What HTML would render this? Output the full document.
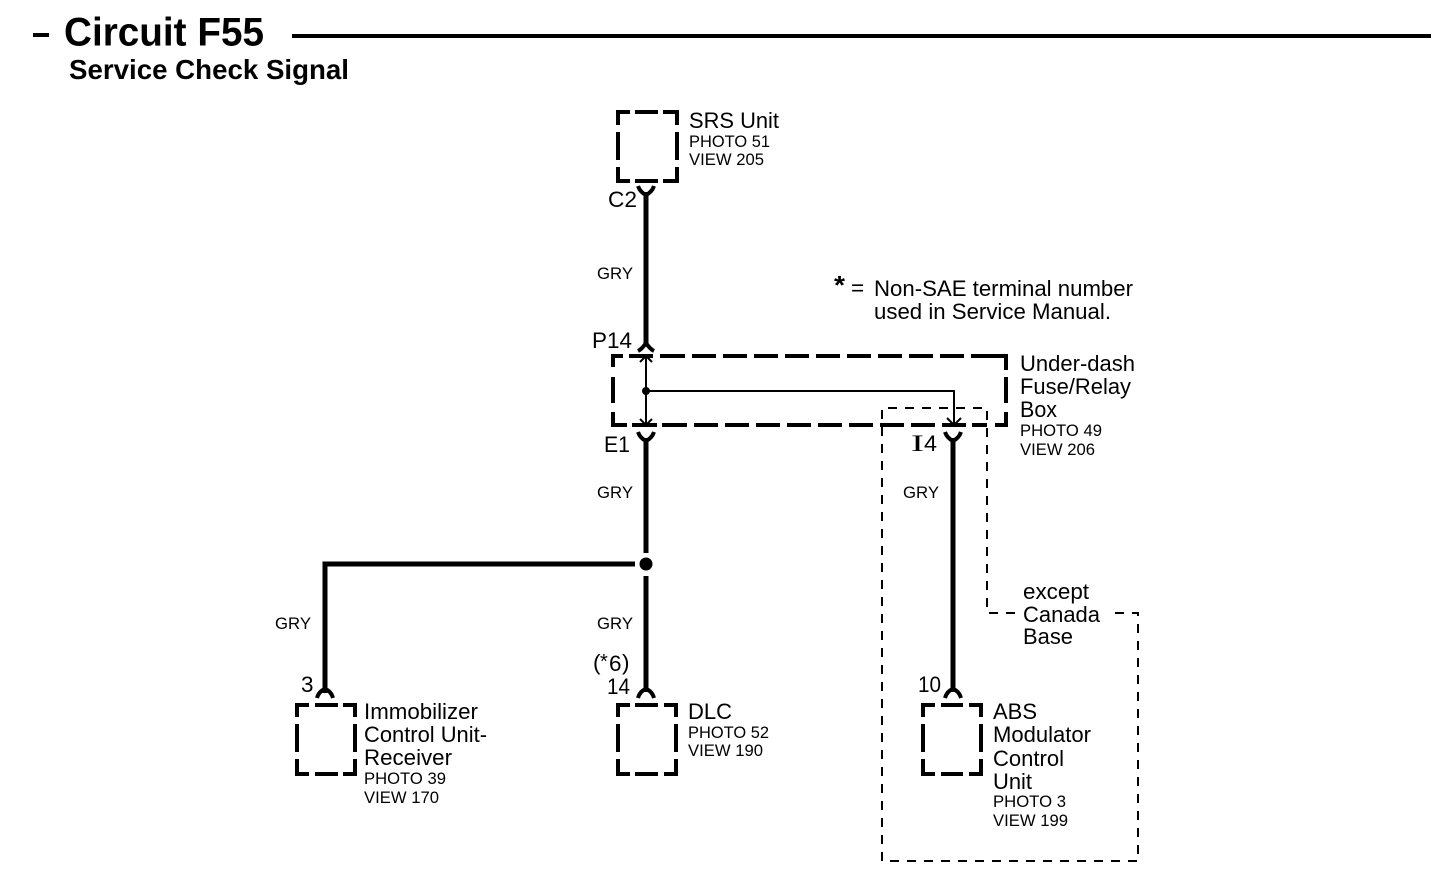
<!DOCTYPE html>
<html>
<head>
<meta charset="utf-8">
<style>
html,body{margin:0;padding:0;background:#fff;width:1456px;height:894px;overflow:hidden}
svg{display:block}
text{font-family:"Liberation Sans",sans-serif;fill:#000}
.l{font-size:22.5px}
.s{font-size:17px}
.g{font-size:17px}
.b{stroke:#000;stroke-width:4;fill:none}
.w{stroke:#000;stroke-width:5;fill:none}
.y{stroke:#000;stroke-width:4;fill:none}
.t{stroke:#000;stroke-width:2;fill:none}
.d{stroke:#000;stroke-width:2;fill:none}
</style>
</head>
<body>
<svg width="1456" height="894" viewBox="0 0 1456 894" xmlns="http://www.w3.org/2000/svg">
<rect width="1456" height="894" fill="#fff"/>

<!-- Title -->
<rect x="33" y="33" width="16" height="4" fill="#000"/>
<text x="64" y="45.5" font-size="40" font-weight="bold" textLength="200" lengthAdjust="spacingAndGlyphs">Circuit F55</text>
<rect x="292" y="34" width="1139" height="4" fill="#000"/>
<text x="69" y="79" font-size="28" font-weight="bold" textLength="280" lengthAdjust="spacingAndGlyphs">Service Check Signal</text>

<!-- SRS box -->
<path class="b" d="M630 112H618V125M635 112H658M663 112H677V125M618 132V160M677 132V160M618 167V181H630M635 181H658M663 181H677V167"/>
<text class="l" x="689" y="128" textLength="90" lengthAdjust="spacingAndGlyphs">SRS Unit</text>
<text class="s" x="689" y="147" textLength="81" lengthAdjust="spacingAndGlyphs">PHOTO 51</text>
<text class="s" x="689" y="165" textLength="75" lengthAdjust="spacingAndGlyphs">VIEW 205</text>

<!-- C2 connector and wire -->
<path class="y" d="M638 186Q640 192 646 195Q652 192 654 186"/>
<path class="w" d="M646 192V343"/>
<text class="l" x="608" y="207" textLength="29" lengthAdjust="spacingAndGlyphs">C2</text>
<text class="g" x="597" y="279" textLength="36" lengthAdjust="spacingAndGlyphs">GRY</text>

<!-- Note -->
<text x="834" y="294" font-size="26" font-weight="bold" textLength="11" lengthAdjust="spacingAndGlyphs">*</text>
<text class="l" x="851" y="295">=</text>
<text class="l" x="874" y="296" textLength="259" lengthAdjust="spacingAndGlyphs">Non-SAE terminal number</text>
<text class="l" x="874" y="319" textLength="237" lengthAdjust="spacingAndGlyphs">used in Service Manual.</text>

<!-- P14 connector -->
<path class="y" d="M638 351Q642 349 646 343Q650 349 654 351"/>
<text class="l" x="592" y="348" textLength="40" lengthAdjust="spacingAndGlyphs">P14</text>

<!-- Under-dash box -->
<path class="b" d="M623 356H613V367M629 356H653M660 356H685M692 356H716M723 356H747M754 356H778M785 356H809M816 356H840M847 356H871M878 356H902M909 356H933M940 356H964M971 356H1006V370M1006 377V403M1006 412V425H995M613 377V403M613 412V425H627M632 425H657M662 425H687M694 425H718M725 425H749M756 425H780M787 425H811M818 425H842M849 425H873M880 425H904M911 425H935M942 425H966M972 425H987"/>
<text class="l" x="1020" y="371" textLength="115" lengthAdjust="spacingAndGlyphs">Under-dash</text>
<text class="l" x="1020" y="394" textLength="111" lengthAdjust="spacingAndGlyphs">Fuse/Relay</text>
<text class="l" x="1020" y="417" textLength="37" lengthAdjust="spacingAndGlyphs">Box</text>
<text class="s" x="1020" y="436" textLength="82" lengthAdjust="spacingAndGlyphs">PHOTO 49</text>
<text class="s" x="1020" y="455" textLength="75" lengthAdjust="spacingAndGlyphs">VIEW 206</text>

<!-- Inner wiring -->
<path class="t" d="M646 356V425"/>
<path class="t" d="M640 362L646 356L652 362"/>
<path class="t" d="M640 419L646 425L652 419"/>
<circle cx="646" cy="391" r="4" fill="#000"/>
<path class="t" d="M646 391H954V424"/>
<path class="t" d="M947 418L954 425L961 418"/>

<!-- Dashed option box -->
<path class="d" stroke-dasharray="9 8" d="M882 861V408H987V613H1016"/>
<path class="d" stroke-dasharray="9 8" d="M1115 613H1138V861H882"/>

<!-- E1 -->
<path class="y" d="M638 432Q640 438 646 441Q652 438 654 432"/>
<path class="w" d="M646 438V553"/>
<text class="l" x="604" y="452" textLength="26" lengthAdjust="spacingAndGlyphs">E1</text>
<text class="g" x="597" y="498" textLength="36" lengthAdjust="spacingAndGlyphs">GRY</text>

<!-- I4 -->
<path class="y" d="M945 432Q947 438 953 441Q959 438 961 432"/>
<path class="w" d="M953 438V692"/>
<text x="911" y="451" font-size="23" style="font-family:'Liberation Serif',serif" textLength="13" lengthAdjust="spacingAndGlyphs">I</text>
<text class="l" x="924" y="451" textLength="13" lengthAdjust="spacingAndGlyphs">4</text>
<text class="g" x="903" y="498" textLength="36" lengthAdjust="spacingAndGlyphs">GRY</text>

<!-- Junction -->
<circle cx="646" cy="564" r="6.5" fill="#000"/>
<path class="w" d="M635 564H325V693"/>
<path class="w" d="M646 576V692"/>
<text class="g" x="275" y="629" textLength="36" lengthAdjust="spacingAndGlyphs">GRY</text>
<text class="g" x="597" y="629" textLength="36" lengthAdjust="spacingAndGlyphs">GRY</text>

<!-- except Canada Base -->
<text class="l" x="1023" y="599" textLength="66" lengthAdjust="spacingAndGlyphs">except</text>
<text class="l" x="1023" y="622" textLength="77" lengthAdjust="spacingAndGlyphs">Canada</text>
<text class="l" x="1023" y="644" textLength="50" lengthAdjust="spacingAndGlyphs">Base</text>

<!-- Immobilizer -->
<path class="y" d="M317 698Q319 691 325 689Q331 691 333 698"/>
<path class="b" d="M309 705H297V717M315 705H338M343 705H355V717M297 724V752M355 724V752M297 759V774H309M315 774H338M343 774H355V759"/>
<text class="l" x="301" y="692">3</text>
<text class="l" x="364" y="719" textLength="114" lengthAdjust="spacingAndGlyphs">Immobilizer</text>
<text class="l" x="364" y="742" textLength="123" lengthAdjust="spacingAndGlyphs">Control Unit-</text>
<text class="l" x="364" y="765" textLength="88" lengthAdjust="spacingAndGlyphs">Receiver</text>
<text class="s" x="364" y="784" textLength="82" lengthAdjust="spacingAndGlyphs">PHOTO 39</text>
<text class="s" x="364" y="803" textLength="75" lengthAdjust="spacingAndGlyphs">VIEW 170</text>

<!-- DLC -->
<path class="y" d="M638 698Q640 691 646 689Q652 691 654 698"/>
<path class="b" d="M630 705H618V717M635 705H658M664 705H676V717M618 724V752M676 724V752M618 759V774H630M635 774H658M664 774H676V759"/>
<text class="l" x="593" y="670">(</text>
<text x="600" y="668" font-size="20">*</text>
<text class="l" x="609" y="671">6</text>
<text class="l" x="622" y="670">)</text>
<text class="l" x="607" y="694" textLength="23" lengthAdjust="spacingAndGlyphs">14</text>
<text class="l" x="688" y="719" textLength="44" lengthAdjust="spacingAndGlyphs">DLC</text>
<text class="s" x="688" y="738" textLength="81" lengthAdjust="spacingAndGlyphs">PHOTO 52</text>
<text class="s" x="688" y="756" textLength="75" lengthAdjust="spacingAndGlyphs">VIEW 190</text>

<!-- ABS -->
<path class="y" d="M945 698Q947 691 953 689Q959 691 961 698"/>
<path class="b" d="M935 705H923V717M941 705H963M969 705H981V717M923 724V752M981 724V752M923 759V774H935M941 774H963M969 774H981V759"/>
<text class="l" x="918" y="692" textLength="23" lengthAdjust="spacingAndGlyphs">10</text>
<text class="l" x="993" y="719" textLength="44" lengthAdjust="spacingAndGlyphs">ABS</text>
<text class="l" x="993" y="742" textLength="98" lengthAdjust="spacingAndGlyphs">Modulator</text>
<text class="l" x="993" y="766" textLength="71" lengthAdjust="spacingAndGlyphs">Control</text>
<text class="l" x="993" y="789" textLength="39" lengthAdjust="spacingAndGlyphs">Unit</text>
<text class="s" x="993" y="807" textLength="73" lengthAdjust="spacingAndGlyphs">PHOTO 3</text>
<text class="s" x="993" y="826" textLength="75" lengthAdjust="spacingAndGlyphs">VIEW 199</text>
</svg>
</body>
</html>
